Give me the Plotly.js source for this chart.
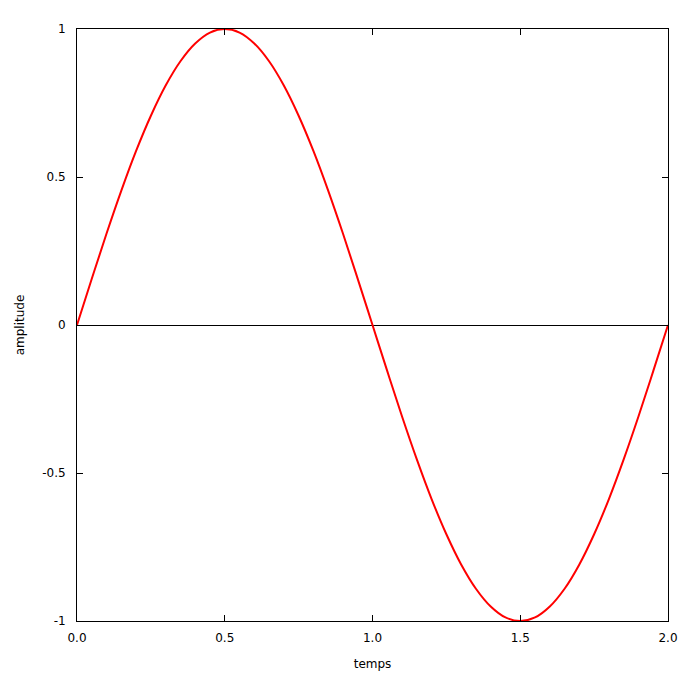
<!DOCTYPE html>
<html>
<head>
<meta charset="utf-8">
<script src="https://cdn.plot.ly/plotly-3.0.1.min.js"></script>
<style>html,body{margin:0;padding:0;background:#fff;}#chart{width:700px;height:700px;}</style>
</head>
<body>
<div id="chart"></div>
<script>
var temps = [0.00,0.05,0.10,0.15,0.20,0.25,0.30,0.35,0.40,0.45,0.50,0.55,0.60,0.65,0.70,0.75,0.80,0.85,0.90,0.95,1.00,
             1.05,1.10,1.15,1.20,1.25,1.30,1.35,1.40,1.45,1.50,1.55,1.60,1.65,1.70,1.75,1.80,1.85,1.90,1.95,2.00];
var amplitude = [0,0.156,0.309,0.454,0.588,0.707,0.809,0.891,0.951,0.988,1,0.988,0.951,0.891,0.809,0.707,0.588,0.454,0.309,0.156,0,
                 -0.156,-0.309,-0.454,-0.588,-0.707,-0.809,-0.891,-0.951,-0.988,-1,-0.988,-0.951,-0.891,-0.809,-0.707,-0.588,-0.454,-0.309,-0.156,0];
var xTickVals = [0,0.5,1,1.5,2];
var xTickText = ["0.0","0.5","1.0","1.5","2.0"];
var yTickVals = [-1,-0.5,0,0.5,1];
var yTickText = ["-1","-0.5","0","0.5","1"];

var font = {family: "DejaVu Sans", size: 12, color: "#000"};
Plotly.newPlot("chart", [{
  x: temps, y: amplitude, type: "scatter", mode: "lines",
  line: {color: "#ff0000", width: 2, shape: "spline", smoothing: 1.0},
  hoverinfo: "skip"
}], {
  width: 700, height: 700,
  margin: {l: 77, r: 32, t: 29, b: 79, pad: 0},
  paper_bgcolor: "#fff", plot_bgcolor: "#fff",
  showlegend: false,
  font: font,
  xaxis: {
    range: [0, 2], tickvals: xTickVals, ticktext: xTickText,
    showline: true, linecolor: "#000", linewidth: 1, mirror: "ticks",
    ticks: "inside", ticklen: 6, tickcolor: "#000", tickwidth: 1,
    showgrid: false, zeroline: false, ticklabelstandoff: 6,
    title: {text: "temps", font: font, standoff: 15}
  },
  yaxis: {
    range: [-1, 1], tickvals: yTickVals, ticktext: yTickText,
    showline: true, linecolor: "#000", linewidth: 1, mirror: "ticks",
    ticks: "inside", ticklen: 6, tickcolor: "#000", tickwidth: 1,
    showgrid: false, zeroline: true, zerolinecolor: "#000", zerolinewidth: 1,
    ticklabelstandoff: 8,
    title: {text: "amplitude", font: font, standoff: 14}
  }
}, {displayModeBar: false, staticPlot: true});
</script>
</body>
</html>
